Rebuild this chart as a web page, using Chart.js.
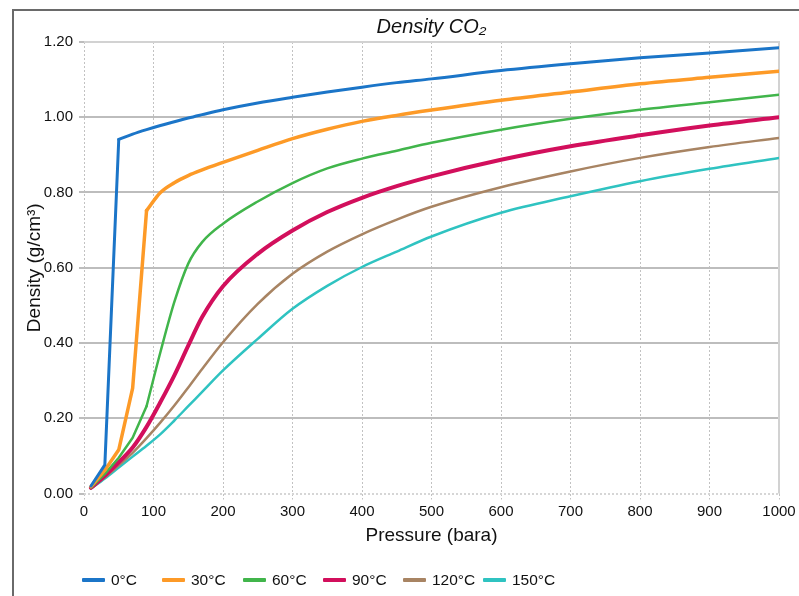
<!DOCTYPE html>
<html>
<head>
<meta charset="utf-8">
<script src="https://cdn.jsdelivr.net/npm/chart.js@4.4.1/dist/chart.umd.min.js"></script>
<style>
  html, body { margin: 0; padding: 0; background: #ffffff; }
  #wrap { position: relative; width: 799px; height: 596px; overflow: hidden; background: #fff; }
  #frameTop { position: absolute; left: 12px; top: 9px; width: 790px; height: 2px; background: #6a6a6a; }
  #frameLeft { position: absolute; left: 12px; top: 9px; width: 2px; height: 600px; background: #6a6a6a; }
  canvas { position: absolute; left: 0; top: 0; }
  #legend { position: absolute; top: 569px; left: 0; width: 799px; height: 22px;
            font-family: 'Liberation Sans', Arial, sans-serif; font-size: 15.5px; color: #111; }
  .item { position: absolute; top: 0; height: 22px; line-height: 22px; white-space: nowrap; }
  .swatch { position: absolute; top: 9px; left: 0; width: 23px; height: 4px; border-radius: 1px; }
  .lbl { position: absolute; left: 29px; top: 0; }
</style>
</head>
<body>
<div id="wrap">
  <div id="frameTop"></div>
  <div id="frameLeft"></div>
  <canvas id="c" width="799" height="596"></canvas>
  <div id="legend"></div>
</div>
<script>
// Pressure (bara)
const pressures = [10, 30, 50, 70, 90, 110, 130, 150, 170, 200, 250, 300, 350, 400, 450, 500, 600, 700, 800, 900, 1000];

// Density (g/cm3) per temperature
const d0   = [0.020, 0.076, 0.941, 0.955, 0.967, 0.978, 0.988, 0.998, 1.007, 1.020, 1.038, 1.053, 1.067, 1.080, 1.092, 1.102, 1.124, 1.142, 1.158, 1.171, 1.185];
const d30  = [0.018, 0.062, 0.116, 0.280, 0.752, 0.800, 0.826, 0.845, 0.860, 0.880, 0.912, 0.943, 0.968, 0.989, 1.005, 1.019, 1.045, 1.067, 1.089, 1.106, 1.122];
const d60  = [0.016, 0.052, 0.095, 0.148, 0.232, 0.376, 0.509, 0.611, 0.668, 0.717, 0.776, 0.825, 0.864, 0.890, 0.911, 0.932, 0.967, 0.996, 1.020, 1.040, 1.060];
const d90  = [0.015, 0.047, 0.083, 0.122, 0.177, 0.243, 0.314, 0.393, 0.469, 0.551, 0.637, 0.699, 0.748, 0.786, 0.817, 0.843, 0.887, 0.923, 0.952, 0.978, 1.000];
const d120 = [0.014, 0.043, 0.075, 0.108, 0.147, 0.189, 0.234, 0.282, 0.331, 0.402, 0.504, 0.584, 0.643, 0.689, 0.728, 0.762, 0.814, 0.856, 0.892, 0.921, 0.945];
const d150 = [0.013, 0.040, 0.069, 0.098, 0.127, 0.158, 0.194, 0.232, 0.270, 0.327, 0.411, 0.491, 0.552, 0.602, 0.643, 0.683, 0.746, 0.790, 0.830, 0.863, 0.892];

const seriesLabels = ['0°C', '30°C', '60°C', '90°C', '120°C', '150°C'];
const seriesData = [d0, d30, d60, d90, d120, d150];
// index of the last point of the straight (phase-change) part of each curve
const kinkIndex = [2, 4, 4, 0, 0, 0];
const seriesColors = ['#1b75c8', '#fd9a27', '#41b54b', '#d20f5c', '#a88463', '#2fc3c1'];
const seriesWidths = [3, 3.5, 2.5, 4, 2.5, 2.5];

const xTicks = [0, 100, 200, 300, 400, 500, 600, 700, 800, 900, 1000];
const yTicks = [0, 0.2, 0.4, 0.6, 0.8, 1.0, 1.2];

const FONT = "'Liberation Sans', Arial, Helvetica, sans-serif";
Chart.defaults.font.family = FONT;
Chart.defaults.color = '#111';

const datasets = [];
seriesData.forEach((arr, i) => {
  const pts = pressures.map((p, j) => ({ x: p, y: arr[j] }));
  const k = kinkIndex[i];
  const common = {
    label: seriesLabels[i],
    borderColor: seriesColors[i],
    backgroundColor: seriesColors[i],
    borderWidth: seriesWidths[i],
    pointRadius: 0,
    fill: false,
    borderJoinStyle: 'round',
    borderCapStyle: 'round'
  };
  if (k > 0) {
    datasets.push(Object.assign({}, common, { data: pts.slice(0, k + 1), tension: 0 }));
  }
  datasets.push(Object.assign({}, common, { data: pts.slice(k), cubicInterpolationMode: 'monotone' }));
});

const frameLines = {
  id: 'frameLines',
  beforeDatasetsDraw(chart) {
    const { ctx, chartArea: a } = chart;
    ctx.save();
    ctx.strokeStyle = '#d2d2d2';
    ctx.lineWidth = 2;
    ctx.beginPath();
    ctx.moveTo(a.left, a.top);
    ctx.lineTo(a.right, a.top);
    ctx.lineTo(a.right, a.bottom);
    ctx.stroke();
    ctx.restore();
  }
};

new Chart(document.getElementById('c'), {
  type: 'line',
  data: { datasets },
  plugins: [frameLines],
  options: {
    responsive: false,
    animation: false,
    devicePixelRatio: 1,
    layout: { padding: { left: 23, right: 20, top: 15, bottom: 48.5 } },
    plugins: {
      legend: { display: false },
      tooltip: { enabled: false },
      title: {
        display: true,
        fullSize: false,
        text: 'Density CO₂',
        font: { size: 20, style: 'italic', weight: 'normal', family: FONT },
        color: '#111',
        padding: { top: 0, bottom: 3 }
      }
    },
    scales: {
      x: {
        type: 'linear',
        min: 0, max: 1000,
        afterBuildTicks: s => { s.ticks = xTicks.map(v => ({ value: v })); },
        afterFit: s => { s.height = 54; },
        ticks: { font: { size: 15 }, color: '#111', padding: 3, maxRotation: 0, autoSkip: false,
                 callback: v => String(v) },
        grid: {
          color: ctx => (ctx.tick && ctx.tick.value === 1000) ? '#d2d2d2' : '#c2c2c2',
          lineWidth: 1,
          tickLength: 6,
          tickColor: '#c2c2c2',
          tickBorderDash: [2, 2]
        },
        border: { display: false, dash: ctx => (ctx.tick && ctx.tick.value === 1000) ? [] : [2, 2] },
        title: {
          display: true,
          text: 'Pressure (bara)',
          font: { size: 19 },
          color: '#111',
          padding: { top: 4, bottom: 0 }
        }
      },
      y: {
        type: 'linear',
        min: 0, max: 1.2,
        afterBuildTicks: s => { s.ticks = yTicks.map(v => ({ value: v })); },
        afterFit: s => { s.width = 61; },
        ticks: { font: { size: 15 }, color: '#111', padding: 6, callback: v => Number(v).toFixed(2) },
        grid: {
          color: ctx => {
            if (!ctx.tick) return '#bdbdbd';
            if (ctx.tick.value === 0) return '#d6d6d6';
            if (Math.abs(ctx.tick.value - 1.2) < 1e-9) return '#d2d2d2';
            return '#bdbdbd';
          },
          lineWidth: 2,
          tickLength: 5,
          tickColor: '#bdbdbd'
        },
        border: { display: false, dash: ctx => (ctx.tick && ctx.tick.value === 0) ? [2, 2] : [] },
        title: {
          display: true,
          text: 'Density (g/cm³)',
          font: { size: 19 },
          color: '#111',
          padding: { top: 0, bottom: 0 }
        }
      }
    }
  }
});

// HTML legend
const legendStarts = [82, 162, 243, 323, 403, 483];
const legend = document.getElementById('legend');
seriesLabels.forEach((lab, i) => {
  const it = document.createElement('div');
  it.className = 'item';
  it.style.left = legendStarts[i] + 'px';
  const sw = document.createElement('div');
  sw.className = 'swatch';
  sw.style.background = seriesColors[i];
  const tx = document.createElement('div');
  tx.className = 'lbl';
  tx.textContent = lab;
  it.appendChild(sw); it.appendChild(tx);
  legend.appendChild(it);
});
</script>
</body>
</html>
